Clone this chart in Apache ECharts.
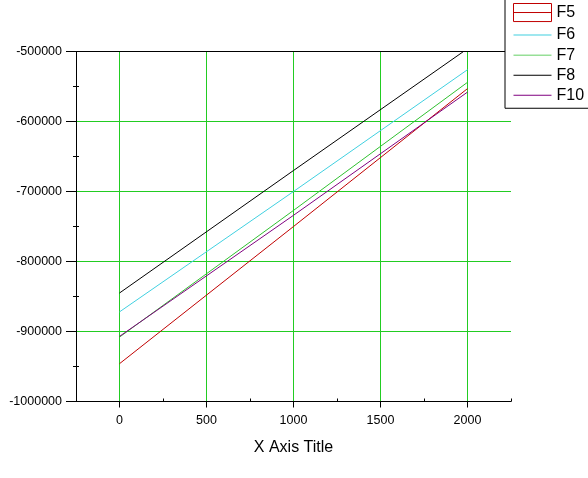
<!DOCTYPE html>
<html>
<head>
<meta charset="utf-8">
<script src="https://cdn.jsdelivr.net/npm/echarts@6/dist/echarts.min.js"></script>
<style>
  html, body { margin: 0; padding: 0; background: #fff; }
  #main { width: 588px; height: 478px; }
</style>
</head>
<body>
<div id="main"></div>
<script>
// x positions
const xValues = [0, 1000, 2000];
// series values at those x positions
const f5 = [-946000, -750000, -553000];
const f6 = [-872000, -700000, -526000];
const f7 = [-908000, -727000, -544000];
const f8 = [-845000, -670000, -496000];
const f10 = [-907000, -734000, -558000];
// tick labels
const xTicks = [0, 500, 1000, 1500, 2000];
const xMinorTicks = [250, 750, 1250, 1750, 2250];
const yMinorTicks = [-950000, -850000, -750000, -650000, -550000];

const seriesNames = ["F5", "F6", "F7", "F8", "F10"];
const seriesValues = [f5, f6, f7, f8, f10];
const seriesColors = ["#c00000", "#40d0e0", "#30c030", "#000000", "#800080"];

const font = "Arial, 'Liberation Sans', sans-serif";
const gridGreen = "#22cc22";
// thin horizontal line icon, tiny corner dots keep the box 40x19
const lineIcon = "path://M0,0H0.01V0.01H0ZM0,9H40V10H0ZM39.99,18.99H40V19H39.99Z";
const boxIcon = "path://M0,0H40V19H0ZM0,9.5H40";

const chart = echarts.init(document.getElementById("main"));

const option = {
  animation: false,
  // 87px per 500 on x, 70px per 100000 on y, grid lines on pixel centres
  grid: { left: 76, top: 51.5, right: 77, bottom: 76.5 },
  legend: {
    orient: "vertical",
    left: 505,
    top: -4,
    padding: [5, 30, 4, 6],
    itemWidth: 38,
    itemHeight: 19,
    itemGap: 2,
    borderColor: "#000",
    borderWidth: 1,
    backgroundColor: "#fff",
    textStyle: { fontFamily: font, fontSize: 16, color: "#000" },
    data: seriesNames.map((name, i) =>
      i === 0
        ? { name: name, icon: boxIcon, itemStyle: { color: "none", borderColor: seriesColors[i], borderWidth: 1 } }
        : { name: name, icon: lineIcon, itemStyle: { color: seriesColors[i], borderWidth: 0 } }
    ),
  },
  xAxis: [
    {
      type: "value",
      position: "bottom",
      min: -250,
      max: 2250,
      name: "X Axis Title",
      nameLocation: "middle",
      nameGap: 38,
      nameTextStyle: { fontFamily: font, fontSize: 16, color: "#000" },
      axisLine: { onZero: false, lineStyle: { color: "#000", width: 1 } },
      axisTick: { customValues: xTicks, length: 6, lineStyle: { color: "#000" } },
      axisLabel: {
        customValues: xTicks,
        margin: 13,
        fontFamily: font,
        fontSize: 12.5,
        color: "#000",
        formatter: v => String(v),
      },
      splitLine: { show: true, lineStyle: { color: gridGreen, width: 1 } },
    },
    {
      // minor ticks pointing into the plot
      type: "value",
      position: "bottom",
      min: -250,
      max: 2250,
      axisLine: { show: false, onZero: false },
      axisTick: { customValues: xMinorTicks, inside: true, length: 3, lineStyle: { color: "#000" } },
      axisLabel: { show: false },
      splitLine: { show: false },
    },
    {
      // black frame line on top
      type: "value",
      position: "top",
      min: -250,
      max: 2250,
      axisLine: { show: true, onZero: false, lineStyle: { color: "#000", width: 1 } },
      axisTick: { show: false },
      axisLabel: { show: false },
      splitLine: { show: false },
    },
  ],
  yAxis: [
    {
      type: "value",
      position: "left",
      min: -1000000,
      max: -500000,
      interval: 100000,
      axisLine: { show: true, onZero: false, lineStyle: { color: "#000", width: 1 } },
      axisTick: { show: true, length: 10, lineStyle: { color: "#000" } },
      minorTick: { show: true, splitNumber: 2, length: 3, lineStyle: { color: "#000" } },
      axisLabel: { margin: 14, fontFamily: font, fontSize: 12.5, color: "#000", formatter: v => String(v) },
      splitLine: { show: true, lineStyle: { color: gridGreen, width: 1 } },
    },
    {
      type: "value",
      position: "left",
      min: -1000000,
      max: -500000,
      axisLine: { show: false, onZero: false },
      axisTick: { customValues: yMinorTicks, inside: true, length: 3, lineStyle: { color: "#000" } },
      axisLabel: { show: false },
      splitLine: { show: false },
    },
  ],
  series: seriesNames.map((name, i) => ({
    name: name,
    type: "line",
    xAxisIndex: 0,
    yAxisIndex: 0,
    symbol: "none",
    clip: true,
    lineStyle: { color: seriesColors[i], width: 1 },
    itemStyle: { color: seriesColors[i] },
    data: xValues.map((x, j) => [x, seriesValues[i][j]]),
  })),
};

chart.setOption(option);
</script>
</body>
</html>
